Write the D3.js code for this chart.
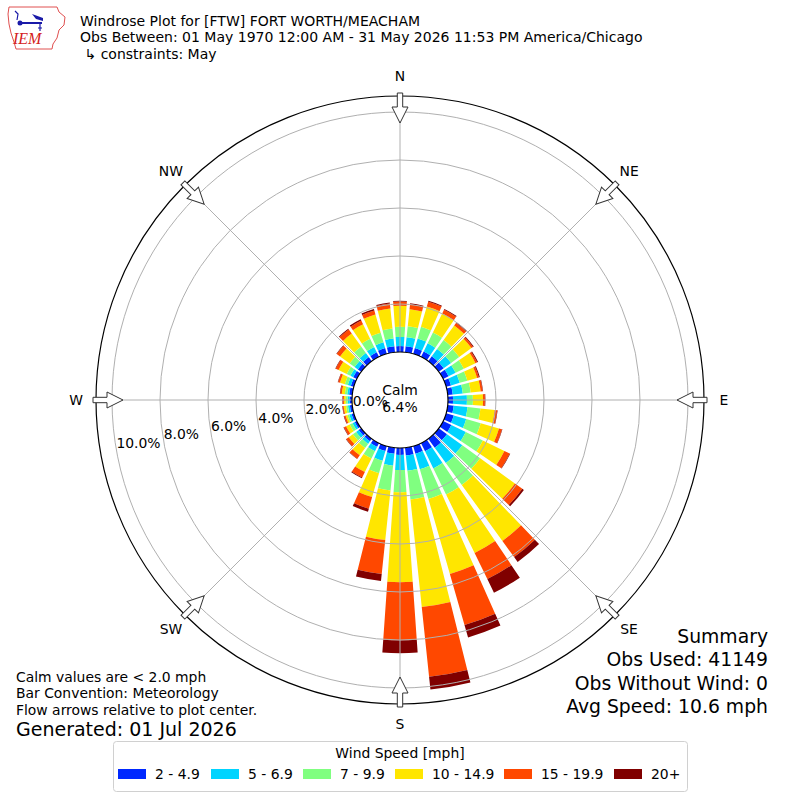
<!DOCTYPE html>
<meta charset="utf-8">
<script src="https://cdn.jsdelivr.net/npm/d3@7"></script>
<style>
  body { margin: 0; background: #fff; }
  text { font-family: "DejaVu Sans", sans-serif; fill: #000; }
</style>
<body>
<div id="chart"></div>
<script>
  // direction bins, degrees clockwise from north
  var directions = d3.range(0, 360, 10);

  var speedBins = ["2 - 4.9", "5 - 6.9", "7 - 9.9", "10 - 14.9", "15 - 19.9", "20+"];
  var binColors = ["#0028ff", "#00d4ff", "#80ff80", "#ffe600", "#ff4800", "#800000"];

  // percent of observations per direction, one array per speed bin
  var spd2 = [0.25,0.25,0.25,0.25,0.25,0.25,0.25,0.21,0.21,0.21,0.25,0.33,0.38,0.42,0.46,0.38,0.33,0.33,
              0.29,0.25,0.21,0.17,0.13,0.13,0.10,0.10,0.10,0.10,0.13,0.13,0.17,0.17,0.21,0.21,0.25,0.25];
  var spd5 = [0.38,0.38,0.42,0.38,0.38,0.38,0.33,0.38,0.42,0.58,0.58,0.54,0.67,0.79,0.79,0.79,0.67,0.63,
              0.63,0.50,0.42,0.21,0.13,0.13,0.10,0.10,0.08,0.08,0.08,0.13,0.13,0.17,0.21,0.25,0.25,0.33];
  var spd7 = [0.42,0.46,0.50,0.50,0.46,0.42,0.38,0.33,0.33,0.25,0.54,0.63,0.79,0.92,1.13,1.21,1.29,1.21,
              0.92,1.04,0.54,0.33,0.21,0.17,0.13,0.08,0.08,0.08,0.10,0.13,0.17,0.25,0.33,0.38,0.42,0.42];
  var spd10 = [0.88,0.71,0.88,0.88,0.75,0.63,0.54,0.42,0.42,0.42,0.60,0.79,1.00,1.79,2.88,2.71,3.25,4.50,
               3.75,2.08,1.04,0.63,0.38,0.21,0.17,0.08,0.10,0.08,0.13,0.21,0.38,0.50,0.67,0.67,0.79,0.83];
  var spd15 = [0.17,0.21,0.21,0.17,0.13,0.08,0.08,0.08,0.08,0.08,0.10,0.13,0.25,0.38,0.83,1.21,2.21,2.92,
               2.42,1.42,0.50,0.25,0.17,0.13,0.10,0.06,0.04,0.04,0.06,0.08,0.13,0.17,0.21,0.17,0.17,0.21];
  var spd20 = [0.04,0.04,0.04,0.04,0.04,0.04,0.04,0.04,0.02,0.02,0.02,0.02,0.02,0.08,0.25,0.63,0.54,0.54,
               0.54,0.29,0.13,0.04,0.02,0.02,0.02,0.02,0.02,0.02,0.02,0.02,0.02,0.02,0.04,0.06,0.06,0.04];
  var series = [spd2, spd5, spd7, spd10, spd15, spd20];

  var ringTicks = [0, 2, 4, 6, 8, 10];
  var compassNames = ["N", "NE", "E", "SE", "S", "SW", "W", "NW"];
  var calmPct = "6.4%";

  var titleLines = ["Windrose Plot for [FTW] FORT WORTH/MEACHAM",
                    "Obs Between: 01 May 1970 12:00 AM - 31 May 2026 11:53 PM America/Chicago",
                    " \u21b3 constraints: May"];
  var noteLines = ["Calm values are < 2.0 mph", "Bar Convention: Meteorology",
                   "Flow arrows relative to plot center."];
  var summaryLines = ["Summary", "Obs Used: 41149", "Obs Without Wind: 0", "Avg Speed: 10.6 mph"];

  var W = 800, H = 800, cx = 400, cy = 400;
  var rad = Math.PI / 180;

  var svg = d3.select("#chart").append("svg")
      .attr("width", W).attr("height", H);

  var r = d3.scaleLinear().domain([0, 10.667]).range([48, 304]);

  var g = svg.append("g").attr("transform", "translate(" + cx + "," + cy + ")");

  // stacked bars
  var arc = d3.arc();
  var bars = [];
  directions.forEach(function(dir, i) {
    var cum = 0;
    series.forEach(function(s, k) {
      bars.push({dir: dir, k: k, lo: cum, hi: cum + s[i]});
      cum += s[i];
    });
  });

  g.selectAll("path.bar").data(bars).enter().append("path")
    .attr("class", "bar")
    .attr("d", function(d) {
      return arc({innerRadius: r(d.lo), outerRadius: r(d.hi),
                  startAngle: (d.dir - 4) * rad, endAngle: (d.dir + 4) * rad});
    })
    .style("fill", function(d) { return binColors[d.k]; });

  // grid on top of bars
  g.selectAll("circle.ring").data(ringTicks.slice(1)).enter().append("circle")
    .attr("r", function(d) { return r(d); })
    .style("fill", "none").style("stroke", "#b0b0b0").style("stroke-width", 1);

  g.selectAll("line.spoke").data(d3.range(0, 360, 45)).enter().append("line")
    .attr("x1", function(d) { return r(0) * Math.sin(d * rad); })
    .attr("y1", function(d) { return -r(0) * Math.cos(d * rad); })
    .attr("x2", function(d) { return r.range()[1] * Math.sin(d * rad); })
    .attr("y2", function(d) { return -r.range()[1] * Math.cos(d * rad); })
    .style("stroke", "#b0b0b0").style("stroke-width", 1);

  // calm circle and outer frame
  g.append("circle").attr("r", r(0))
    .style("fill", "#fff").style("stroke", "#000").style("stroke-width", 1.2);
  g.append("circle").attr("r", r.range()[1])
    .style("fill", "none").style("stroke", "#000").style("stroke-width", 1.2);

  // flow arrows
  var arrowPts = [[-2.7, -307], [-2.7, -293], [-8, -293], [0, -277], [8, -293], [2.7, -293], [2.7, -307]];
  g.selectAll("polygon.arrow").data(d3.range(0, 360, 45)).enter().append("polygon")
    .attr("points", arrowPts.map(function(p) { return p.join(","); }).join(" "))
    .attr("transform", function(d) { return "rotate(" + d + ")"; })
    .style("fill", "#fff").style("stroke", "#333").style("stroke-width", 1);

  // compass labels
  g.selectAll("text.dir").data(compassNames).enter().append("text")
    .attr("x", function(d, i) { return 324 * Math.sin(i * 45 * rad); })
    .attr("y", function(d, i) { return -324 * Math.cos(i * 45 * rad); })
    .attr("dy", "0.36em")
    .attr("text-anchor", "middle")
    .style("font-size", "13.9px")
    .text(function(d) { return d; });

  // ring labels along 260 deg
  g.selectAll("text.ring").data(ringTicks).enter().append("text")
    .attr("x", function(d) { return r(d) * Math.sin(260 * rad); })
    .attr("y", function(d) { return -r(d) * Math.cos(260 * rad) - 2.5; })
    .style("font-size", "13.9px")
    .text(function(d) { return d.toFixed(1) + "%"; });

  g.append("text").attr("y", -10).attr("dy", "0.36em").attr("text-anchor", "middle")
    .style("font-size", "13.9px").text("Calm");
  g.append("text").attr("y", 7).attr("dy", "0.36em").attr("text-anchor", "middle")
    .style("font-size", "13.9px").text(calmPct);

  // header
  svg.selectAll("text.title").data(titleLines).enter().append("text")
    .attr("x", 80)
    .attr("y", function(d, i) { return 25.5 + i * 16.7; })
    .style("font-size", "14px")
    .style("white-space", "pre")
    .text(function(d) { return d; });

  // rough IEM logo
  var logo = svg.append("g");
  logo.append("path")
    .attr("d", "M9,7 L57,7 L59,12 L65,17 L64,25 L59,30 L57,38 L53,44 L52,49 L16,49 L14,42 L11,33 L9,24 L8,14 Z")
    .style("fill", "none").style("stroke", "#e05050").style("stroke-width", 1);
  logo.append("line").attr("x1", 19).attr("y1", 23).attr("x2", 42).attr("y2", 23)
    .style("stroke", "#1a1aa8").style("stroke-width", 2);
  logo.append("circle").attr("cx", 20).attr("cy", 23).attr("r", 2.5).style("fill", "#1a1aa8");
  logo.append("path").attr("d", "M32,14 L43,18 L43,21 L36,19 Z").style("fill", "#1a1aa8");
  logo.append("path").attr("d", "M15,11 L18,14 L17,20 M40,23 L40,31 M38,28 L42,28")
    .style("fill", "none").style("stroke", "#1a1aa8").style("stroke-width", 1.2);
  logo.append("text").attr("x", 13).attr("y", 44)
    .style("font-family", "'Liberation Serif', serif").style("font-style", "italic")
    .style("font-size", "16px").style("fill", "#d42020").text("IEM");

  // notes
  svg.selectAll("text.note").data(noteLines).enter().append("text")
    .attr("x", 16)
    .attr("y", function(d, i) { return 681.5 + i * 16.8; })
    .style("font-size", "13.9px")
    .text(function(d) { return d; });
  svg.append("text").attr("x", 16).attr("y", 736)
    .style("font-size", "19px").text("Generated: 01 Jul 2026");

  svg.selectAll("text.summary").data(summaryLines).enter().append("text")
    .attr("x", 768)
    .attr("y", function(d, i) { return 643 + i * 23.3; })
    .attr("text-anchor", "end")
    .style("font-size", "18.8px")
    .text(function(d) { return d; });

  // legend
  var leg = svg.append("g");
  leg.append("rect").attr("x", 113.5).attr("y", 741.5).attr("width", 574).attr("height", 50)
    .attr("rx", 3).style("fill", "#fff").style("stroke", "#d0d0d0").style("stroke-width", 1);
  leg.append("text").attr("x", 400).attr("y", 753).attr("dy", "0.36em").attr("text-anchor", "middle")
    .style("font-size", "13.9px").text("Wind Speed [mph]");

  var legX = [118, 211, 303, 395, 504, 614];
  var item = leg.selectAll("g.item").data(speedBins).enter().append("g")
    .attr("transform", function(d, i) { return "translate(" + legX[i] + ",774)"; });
  item.append("rect").attr("x", 0).attr("y", -5).attr("width", 28).attr("height", 10)
    .style("fill", function(d, i) { return binColors[i]; });
  item.append("text").attr("x", 37).attr("dy", "0.36em")
    .style("font-size", "13.9px")
    .text(function(d) { return d; });
</script>
</body>
